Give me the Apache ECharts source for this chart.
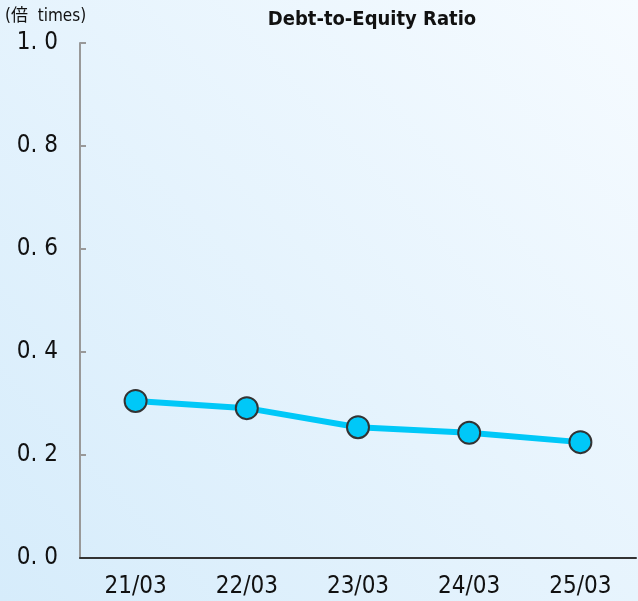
<!DOCTYPE html>
<html>
<head>
<meta charset="utf-8">
<style>
  html, body { margin: 0; padding: 0; }
  #chart { width: 638px; height: 601px; }
</style>
<script src="https://cdn.jsdelivr.net/npm/echarts@6/dist/echarts.min.js"></script>
</head>
<body>
<div id="chart"></div>
<script>
// data
var categories = ["21/03", "22/03", "23/03", "24/03", "25/03"];
var ratioValues = [0.305, 0.291, 0.254, 0.243, 0.225];
var yTicks = [0, 0.2, 0.4, 0.6, 0.8, 1.0];

var FONT = "'DejaVu Sans Condensed', 'Noto Sans CJK JP', sans-serif";

var myChart = echarts.init(document.getElementById("chart"));

var option = {
  backgroundColor: {
    type: "linear", x: 0, y: 1, x2: 1, y2: 0,
    colorStops: [
      { offset: 0, color: "#d6ecfb" },
      { offset: 1, color: "#f6fbff" }
    ]
  },
  title: {
    text: "Debt-to-Equity Ratio",
    left: 367,
    top: 5,
    textAlign: "center",
    textStyle: { fontFamily: FONT, fontSize: 20, fontWeight: "bold", color: "#111" }
  },
  grid: { left: 80, right: 2, top: 43, bottom: 43 },
  xAxis: {
    type: "category",
    data: categories,
    boundaryGap: true,
    z: 5,
    axisLine: { lineStyle: { color: "#333", width: 2 } },
    axisTick: { inside: true, length: 6, lineStyle: { color: "#333", width: 2 } },
    axisLabel: { fontFamily: FONT, fontSize: 24, color: "#111", margin: 17 }
  },
  yAxis: {
    type: "value",
    min: yTicks[0],
    max: yTicks[yTicks.length - 1],
    interval: 0.2,
    name: "(倍  times)",
    nameLocation: "end",
    nameGap: 18,
    nameTextStyle: { fontFamily: FONT, fontSize: 17, color: "#111", align: "left", padding: [0, 0, 0, -75] },
    axisLine: { show: true, lineStyle: { color: "#999", width: 2 } },
    axisTick: { show: true, inside: true, length: 6, lineStyle: { color: "#999", width: 2 } },
    splitLine: { show: false },
    axisLabel: {
      fontFamily: FONT, fontSize: 24, color: "#111", margin: 22,
      formatter: function (v) { return v.toFixed(1).replace(".", ". "); }
    }
  },
  series: [{
    type: "line",
    data: ratioValues,
    symbol: "circle",
    symbolSize: 22,
    lineStyle: { color: "#00c8f8", width: 6 },
    itemStyle: { color: "#00c8f8", borderColor: "#333", borderWidth: 2 },
    z: 3
  }]
};

myChart.setOption(option);
</script>
</body>
</html>
